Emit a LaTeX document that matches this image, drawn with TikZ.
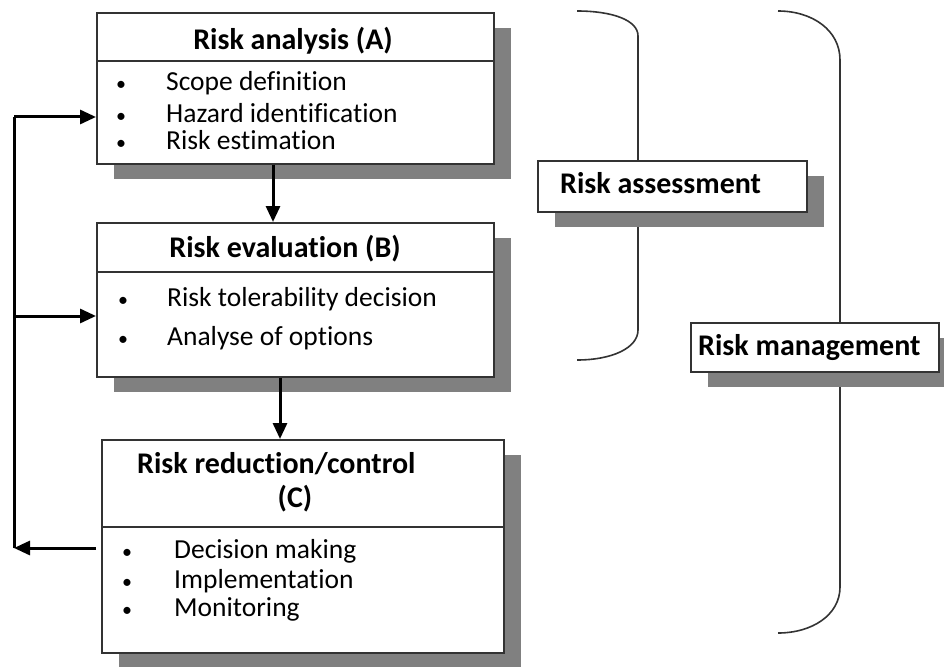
\documentclass[tikz,border=0pt]{standalone}
\usepackage{fontspec}
\setmainfont{Carlito}[Ligatures={NoCommon}]
\usetikzlibrary{arrows.meta,shadows}
\begin{document}
\begin{tikzpicture}[x=1pt,y=-1pt,
  box/.style={draw=black!80,line width=1.6pt,fill=white,rectangle,inner sep=0pt,anchor=north west,
    drop shadow={shadow xshift=17pt,shadow yshift=-15pt,fill=black!50,opacity=1}},
  ttl/.style={font=\fontsize{30}{34}\selectfont\bfseries,anchor=base,inner sep=0pt},
  item/.style={font=\fontsize{27.5}{32}\selectfont,anchor=base west,inner sep=0pt},
  bul/.style={font=\fontsize{20}{22}\selectfont,anchor=base,inner sep=0pt},
  arr/.style={line width=3pt,-{Triangle[length=16pt,width=14pt]}},
  fbline/.style={line width=3pt},
  brace/.style={line width=1.6pt,black!80}]
\useasboundingbox (0,0) rectangle (944,666);
% braces
\draw[brace] (577,11) .. controls (612,11) and (638,20) .. (638,36) -- (638,330)
  .. controls (638,348) and (612,360) .. (577,360);
\draw[brace] (778,11) .. controls (812,11) and (840,30) .. (840,60) -- (840,587)
  .. controls (840,615) and (812,633) .. (778,633);
% boxes
\node[box,minimum width=397pt,minimum height=151pt] (A) at (96,12) {};
\node[box,minimum width=397pt,minimum height=154pt] (B) at (96,222) {};
\node[box,minimum width=402pt,minimum height=213pt] (C) at (101,439) {};
\node[box,minimum width=269pt,minimum height=51pt] (RA) at (537,160) {};
\node[box,minimum width=248pt,minimum height=49pt] (RM) at (690,322) {};
% dividers
\draw[line width=1.6pt,black!80] (A.west |- 0,61) -- (A.east |- 0,61);
\draw[line width=1.6pt,black!80] (B.west |- 0,272) -- (B.east |- 0,272);
\draw[line width=1.6pt,black!80] (C.west |- 0,527) -- (C.east |- 0,527);
% titles
\node[ttl] (tA) at (293,50) {Risk analysis (A)};
\node[ttl] (tB) at (285,257) {Risk evaluation (B)};
\node[ttl,anchor=base west] (tC1) at (137,473) {Risk reduction/control};
\node[ttl] (tC2) at (295,507) {(C)};
\node[ttl,anchor=base west] (tRA) at (560,193) {Risk assessment};
\node[ttl,anchor=base west] (tRM) at (698,355) {Risk management};
% items A
\node[bul] (bA1) at (121,91) {•};
\node[bul] (bA2) at (121,122) {•};
\node[bul] (bA3) at (121,149) {•};
\node[item] (iA1) at (166,91) {Scope definition};
\node[item] (iA2) at (166,122) {Hazard identification};
\node[item] (iA3) at (166,149) {Risk estimation};
% items B
\node[bul] (bB1) at (123,306) {•};
\node[bul] (bB2) at (123,345) {•};
\node[item] (iB1) at (167,306) {Risk tolerability decision};
\node[item] (iB2) at (167,345) {Analyse of options};
% items C
\node[bul] (bC1) at (127,558) {•};
\node[bul] (bC2) at (127,588) {•};
\node[bul] (bC3) at (127,616) {•};
\node[item] (iC1) at (174,558) {Decision making};
\node[item] (iC2) at (174,588) {Implementation};
\node[item] (iC3) at (174,616) {Monitoring};
% arrows
\draw[arr] (A.south -| 273,0) -- (B.north -| 273,0);
\draw[arr] (B.south -| 280,0) -- (C.north -| 280,0);
\coordinate (f1) at (14,117);
\coordinate (f2) at (14,316);
\coordinate (f3) at (14,548);
\draw[arr] (C.west |- f3) ++(-5,0) -- (f3);
\draw[fbline] (f3) -- (f1);
\draw[arr] (f1) -- (A.west |- f1);
\draw[arr] (f2) -- (B.west |- f2);
\end{tikzpicture}
\end{document}
